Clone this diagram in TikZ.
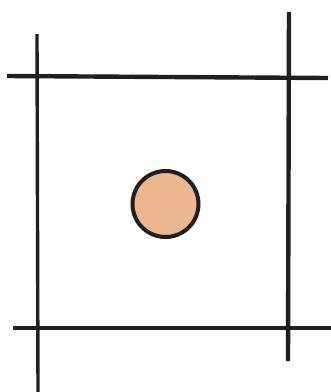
\documentclass[tikz,border=0pt]{standalone}
\usetikzlibrary{positioning}
\definecolor{cink}{HTML}{1F1F1F}
\definecolor{ctan}{HTML}{EBB68E}
\tikzset{
  every picture/.style={x=1pt, y=-1pt},
  gridline/.style={draw=cink, line width=#1},
  gridline/.default=4.4pt,
  stone/.style={circle, draw=cink, fill=ctan, line width=4pt, minimum size=66pt, inner sep=0pt},
}

\begin{document}
\begin{tikzpicture}
  \useasboundingbox (0,0) rectangle (331,392);
  % vertical lines
  \coordinate (lt) at (37,34);
  \coordinate (lb) at (38,392);
  \coordinate (rt) at (289,12);
  \coordinate (rb) at (288,361);
  \draw[gridline=3.4pt] (lt) -- (lb);
  \draw[gridline] (rt) -- (rb);
  % horizontal lines
  \coordinate (tl) at (7,76);
  \coordinate (tr) at (328,78);
  \coordinate (bl) at (13,328);
  \coordinate (br) at (331,328);
  \draw[gridline] (tl) -- (tr);
  \draw[gridline] (bl) -- (br);
  % the stone
  \node[stone] (piece) at (165.5,204) {};
\end{tikzpicture}
\end{document}
